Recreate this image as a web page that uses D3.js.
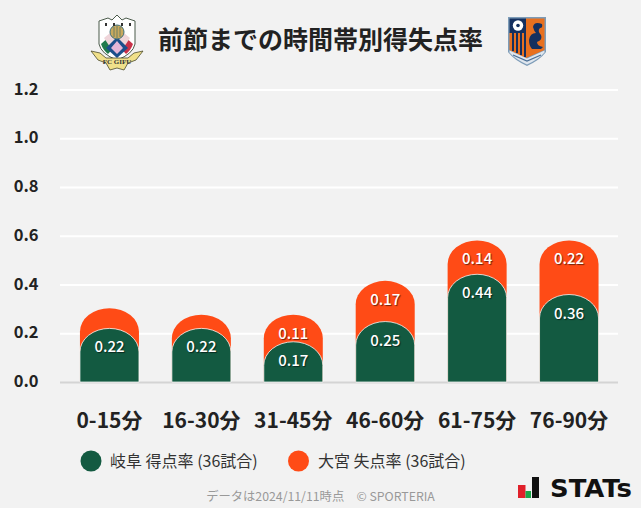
<!DOCTYPE html>
<html><head><meta charset="utf-8">
<script src="https://cdn.jsdelivr.net/npm/d3@7"></script>
<style>
html,body{margin:0;padding:0;background:#f2f2f2;}
svg{display:block;}
text{font-family:"Noto Sans CJK JP","Noto Sans",sans-serif;}
.val{text-shadow:1px 1px 1px rgba(0,0,0,.55);}
</style></head><body><div id="c"></div>
<script>
const categories=["0-15分","16-30分","31-45分","46-60分","61-75分","76-90分"];
const gifuScored=[0.222,0.222,0.167,0.25,0.444,0.361];
const omiyaConceded=[0.083,0.056,0.111,0.167,0.139,0.222];
const yTicks=[0,0.2,0.4,0.6,0.8,1.0,1.2];
const seriesNames=["岐阜 得点率 (36試合)","大宮 失点率 (36試合)"];
const colors=["#135a41","#ff4b16"];
const title="前節までの時間帯別得失点率";
const footer="データは2024/11/11時点　© SPORTERIA";

const svg=d3.select("#c").append("svg").attr("width",641).attr("height",508);
const x=d3.scaleBand().domain(categories).range([63.5,615]).paddingInner(0.358).paddingOuter(0.179);
const y=d3.scaleLinear().domain([0,1.2]).range([382.5,90]);

svg.append("g").selectAll("line").data(yTicks.slice(1)).join("line")
 .attr("x1",60).attr("x2",618).attr("y1",d=>y(d)).attr("y2",d=>y(d))
 .attr("stroke","#fff").attr("stroke-width",2);
svg.append("line").attr("x1",60).attr("x2",618).attr("y1",y(0)).attr("y2",y(0)).attr("stroke","#d4d4d4").attr("stroke-width",2);
svg.append("g").selectAll("text").data(yTicks).join("text")
 .attr("x",38.5).attr("y",d=>y(d)-1.3).attr("dy","0.36em").attr("text-anchor","end")
 .attr("font-size",16.5).attr("font-weight",700).attr("fill","#222").text(d=>d.toFixed(1));
svg.append("g").selectAll("text").data(categories).join("text")
 .attr("x",d=>x(d)+x.bandwidth()/2).attr("y",420.5).attr("dy","0.36em").attr("text-anchor","middle")
 .attr("font-size",21).attr("font-weight",700).attr("fill","#222").text(d=>d);

function dome(cx,w,top,base,ry){
  const l=cx-w/2,r=cx+w/2;
  const k=Math.min(ry,base-top);
  return `M${l},${base}V${top+k}A${w/2},${k} 0 0 1 ${r},${top+k}V${base}Z`;
}
const ry=23.5;
const bw=x.bandwidth();
const rows=categories.map((c,i)=>({c,a:gifuScored[i],b:omiyaConceded[i]}));
svg.append("g").selectAll("path").data(rows).join("path")
 .attr("d",d=>dome(x(d.c)+bw/2,bw,y(d.a+d.b),y(0)-0.5,ry))
 .attr("fill",colors[1]);
svg.append("g").selectAll("path").data(rows).join("path")
 .attr("d",d=>dome(x(d.c)+bw/2,bw,y(d.a),y(0)-0.5,ry))
 .attr("fill",colors[0]).attr("stroke","#fff").attr("stroke-opacity",.75).attr("stroke-width",1);
svg.append("g").selectAll("text").data(rows).join("text").attr("class","val")
 .attr("x",d=>x(d.c)+bw/2).attr("y",d=>y(d.a)+18.7).attr("dy","0.36em").attr("text-anchor","middle")
 .attr("font-size",15).attr("font-weight",500).attr("fill","#fff").text(d=>d.a.toFixed(2));
svg.append("g").selectAll("text").data(rows.filter(d=>d.b>=0.1)).join("text").attr("class","val")
 .attr("x",d=>x(d.c)+bw/2).attr("y",d=>y(d.a+d.b)+18.7).attr("dy","0.36em").attr("text-anchor","middle")
 .attr("font-size",15).attr("font-weight",500).attr("fill","#fff").text(d=>d.b.toFixed(2));

svg.append("text").attr("x",320.5).attr("y",40).attr("dy","0.36em").attr("text-anchor","middle")
 .attr("font-size",25).attr("font-weight",700).attr("fill","#222").text(title);

const lg=svg.append("g");
[[91,110],[298.5,318]].forEach((p,i)=>{
  lg.append("circle").attr("cx",p[0]).attr("cy",461).attr("r",10.5).attr("fill",colors[i]);
  lg.append("text").attr("x",p[1]).attr("y",461).attr("dy","0.36em").attr("font-size",16).attr("fill","#333").text(seriesNames[i]);
});
svg.append("text").attr("x",320.5).attr("y",497).attr("dy","0.36em").attr("text-anchor","middle")
 .attr("font-size",12.3).attr("fill","#999").text(footer);

// Gifu crest
const g=svg.append("g");
const P=(p,f,s,w)=>g.append("path").attr("d",p).attr("fill",f).attr("stroke",s||"none").attr("stroke-width",w||0);
P("M99,21L108,18L112,20L117,15L122,20L126,18L135,21V44Q133,54 117,60Q101,54 99,44Z","#fff","#4a5a4a",1);
P("M101,44L110,36L117,44L108,54Q103,50 101,44Z","#1f7a4c");
P("M133,44L124,36L117,44L126,54Q131,50 133,44Z","#c8324a");
P("M104,38L110,33L116,40L110,47Z","#efd5da");
P("M130,38L124,33L118,40L124,47Z","#efd5da");
P("M117,37L128,48L117,58L106,48Z","#1c4f8c");
P("M117,41L123,48L117,54L111,48Z","#e5b6d8");
g.append("circle").attr("cx",117).attr("cy",32).attr("r",7).attr("fill","#c9a95e").attr("stroke","#3f6f7a").attr("stroke-width",1);
P("M114,27V37M117,26V38M120,27V37","none","#6c7f62",1);
[105,113,121,129].forEach(v=>g.append("rect").attr("x",v).attr("y",23).attr("width",2).attr("height",3).attr("fill","#333"));
P("M91,51L100,53L106,58H128L134,53L143,51L136,60L128,63L124,70L117,68L110,70L106,63L98,60Z","#f0e08a","#4a4a2a",.8);
g.append("text").attr("x",117).attr("y",63.5).attr("text-anchor","middle").attr("font-size",7).attr("font-weight",700)
 .style("font-family","'Liberation Serif',serif").attr("fill","#333").text("FC GIFU");

// Omiya crest
const o=svg.append("g");
const Q=(p,f,s,w)=>o.append("path").attr("d",p).attr("fill",f).attr("stroke",s||"none").attr("stroke-width",w||0);
Q("M508,17H546V52Q540,60 527,66Q514,60 508,52Z","#7d9cb8");
Q("M509.5,18.5H526V33H509.5Z","#15305f");
Q("M509.5,33H526V58L509.5,50Z","#e8701f");
Q("M512,33H514V51H512ZM516,33H518V53H516ZM520,33H522V55H520ZM524,33H526V57H524Z","#15305f");
Q("M526,18.5H544.5V50L526,58Z","#e8701f");
Q("M542,24Q534,21 533,27Q534,31 536,33Q530,33 529,40Q529,46 532,49H541L543,47Q537,46 537,42Q543,40 541,35Q537,31 540,28Q543,28 542,24Z","#15305f");
o.append("circle").attr("cx",518).attr("cy",25.5).attr("r",5.2).attr("fill","#fff");
o.append("circle").attr("cx",518).attr("cy",25.5).attr("r",1.8).attr("fill","#15305f");
Q("M509.5,50.5L527,58.5L544.5,50.5V52.5Q539,59 527,64.5Q515,59 509.5,52.5Z","#dfe6ee");
Q("M513,55L527,61L541,55","none","#4a6f96",1.3);

// STATS logo
const t=svg.append("g");
t.append("rect").attr("x",518).attr("y",485).attr("width",7.5).attr("height",13).attr("fill","#e0202a");
t.append("rect").attr("x",525.5).attr("y",491).attr("width",5.5).attr("height",7).attr("fill","#1aa64a");
t.append("rect").attr("x",532).attr("y",477).attr("width",7).attr("height",21).attr("fill","#111");
t.append("text").attr("x",550).attr("y",497).attr("font-size",24).attr("font-weight",700)
 .attr("textLength",82).attr("lengthAdjust","spacingAndGlyphs")
 .style("font-family","'DejaVu Sans',sans-serif").attr("fill","#111").text("STATs");
</script></body></html>
